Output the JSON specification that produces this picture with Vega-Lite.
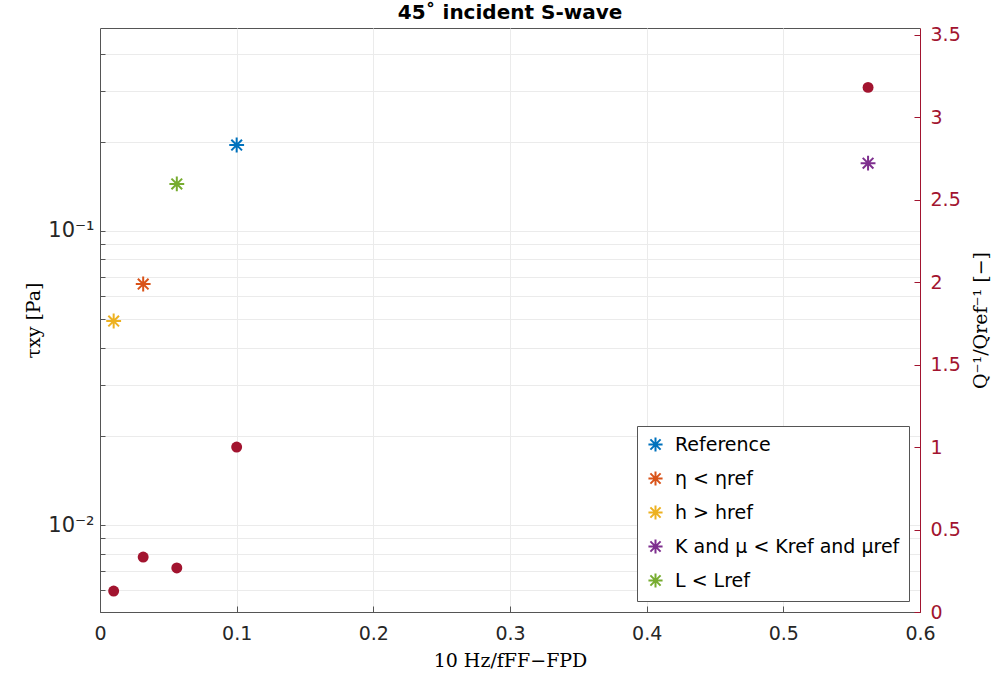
{
  "$schema": "https://vega.github.io/schema/vega-lite/v6.json",
  "autosize": {"type": "none"},
  "padding": {"left": 100, "top": 28, "right": 77, "bottom": 72},
  "width": 820,
  "height": 584,
  "background": "white",
  "title": {"text": "45˚ incident S-wave", "fontSize": 20, "fontWeight": "bold", "font": "DejaVu Sans", "color": "#000000", "offset": 3, "anchor": "middle"},
  "config": {
    "view": {"stroke": "#555555", "strokeWidth": 1},
    "axis": {"labelFont": "DejaVu Sans", "labelFontSize": 19, "labelColor": "#262626", "titleFont": "DejaVu Serif", "titleFontSize": 19, "titleFontWeight": "normal", "titleColor": "#000000", "domainColor": "#555555", "tickColor": "#555555", "gridColor": "#ebebeb", "gridOpacity": 1},
    "legend": {"labelFont": "DejaVu Sans", "labelFontSize": 19, "labelColor": "#000000", "labelLimit": 400}
  },
  "datasets": {
    "stars": [
      {"series": "Reference", "x": 0.1, "tau": 0.196},
      {"series": "η < ηref", "x": 0.0316, "tau": 0.066},
      {"series": "h > href", "x": 0.01, "tau": 0.0494},
      {"series": "K and μ < Kref and μref", "x": 0.562, "tau": 0.170},
      {"series": "L < Lref", "x": 0.0562, "tau": 0.1445}
    ],
    "qratio": [
      {"x": 0.01, "q": 0.127},
      {"x": 0.0316, "q": 0.333},
      {"x": 0.0562, "q": 0.267},
      {"x": 0.1, "q": 1.0},
      {"x": 0.562, "q": 3.18}
    ]
  },
  "layer": [
    {
      "data": {"name": "stars"},
      "mark": {"type": "point", "shape": "M-1,0L1,0M0,-1L0,1M-0.72,-0.72L0.72,0.72M-0.72,0.72L0.72,-0.72", "filled": false, "strokeWidth": 2, "size": 220, "opacity": 1},
      "encoding": {
        "x": {"field": "x", "type": "quantitative", "scale": {"domain": [0, 0.6], "nice": false, "zero": false},
          "axis": {"title": "10 Hz/fFF−FPD", "values": [0, 0.1, 0.2, 0.3, 0.4, 0.5, 0.6], "format": "~g", "grid": true, "tickSize": -6, "labelPadding": 18, "titlePadding": 8, "labelFlush": false}},
        "y": {"field": "tau", "type": "quantitative", "scale": {"type": "log", "domain": [0.00506, 0.49], "nice": false},
          "axis": {"title": "τxy [Pa]", "orient": "left", "grid": true, "tickSize": -5, "labelOverlap": false, "labelPadding": 11, "titlePadding": 4, "labelFontSize": 21,
            "labelExpr": "abs(log(datum.value)/LN10+1)<1e-6 ? '10⁻¹' : (abs(log(datum.value)/LN10+2)<1e-6 ? '10⁻²' : '')"}},
        "color": {"field": "series", "type": "nominal",
          "scale": {"domain": ["Reference", "η < ηref", "h > href", "K and μ < Kref and μref", "L < Lref"], "range": ["#0072BD", "#D95319", "#EDB120", "#7E2F8E", "#77AC30"]},
          "legend": {"title": null, "orient": "bottom-right", "offset": 11, "strokeColor": "#555555", "fillColor": "#ffffff", "padding": 9, "rowPadding": 11, "symbolStrokeWidth": 2, "symbolSize": 200, "symbolType": "M-1,0L1,0M0,-1L0,1M-0.72,-0.72L0.72,0.72M-0.72,0.72L0.72,-0.72", "labelOffset": 10}}
      }
    },
    {
      "data": {"name": "qratio"},
      "mark": {"type": "circle", "size": 120, "color": "#A2142F", "opacity": 1},
      "encoding": {
        "x": {"field": "x", "type": "quantitative"},
        "y": {"field": "q", "type": "quantitative", "scale": {"domain": [0, 3.54], "nice": false, "zero": false},
          "axis": {"title": "Q⁻¹/Qref⁻¹ [−]", "orient": "right", "grid": false, "values": [0, 0.5, 1, 1.5, 2, 2.5, 3, 3.5], "format": "~g", "tickSize": -6, "labelPadding": 16, "titleAngle": 270, "titlePadding": 30, "labelColor": "#A2142F", "tickColor": "#A2142F", "domainColor": "#A2142F", "titleColor": "#000000"}}
      }
    }
  ],
  "resolve": {"scale": {"y": "independent"}, "axis": {"y": "independent"}}
}
